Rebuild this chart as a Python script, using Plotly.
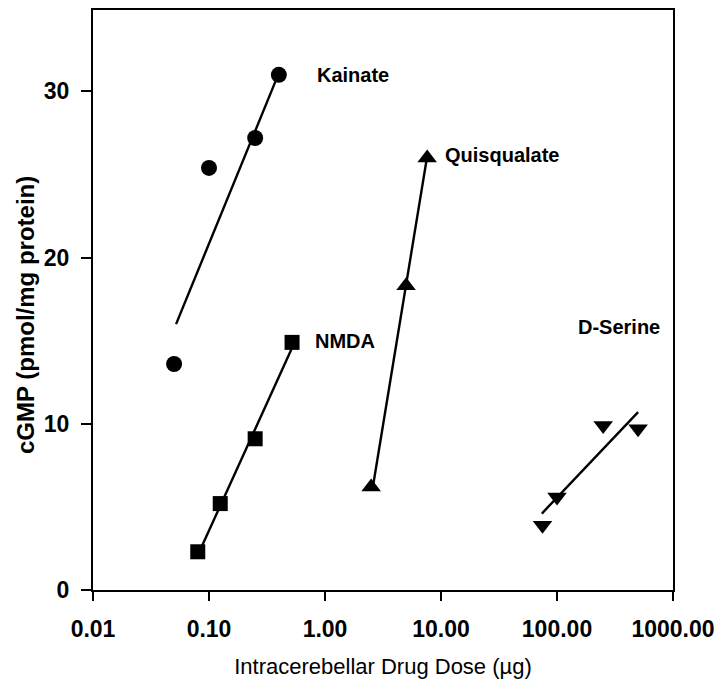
import math
import plotly.graph_objects as go

# ---- data ----
kainate_dose = [0.05, 0.10, 0.25, 0.40]
kainate_cgmp = [13.6, 25.4, 27.2, 31.0]
kainate_fit_dose = [0.052, 0.40]
kainate_fit_cgmp = [16.0, 31.1]

nmda_dose = [0.08, 0.125, 0.25, 0.52]
nmda_cgmp = [2.3, 5.2, 9.1, 14.9]
nmda_fit_dose = [0.082, 0.53]
nmda_fit_cgmp = [2.25, 14.7]

quis_dose = [2.5, 5.0, 7.6]
quis_cgmp = [6.2, 18.3, 26.0]
quis_fit_dose = [2.6, 7.6]
quis_fit_cgmp = [6.3, 26.1]

dser_dose = [75, 100, 250, 500]
dser_cgmp = [3.9, 5.6, 9.9, 9.7]
dser_fit_dose = [74, 500]
dser_fit_cgmp = [4.6, 10.7]

x_tickvals = [0.01, 0.1, 1, 10, 100, 1000]
x_ticktext = ["0.01", "0.10", "1.00", "10.00", "100.00", "1000.00"]
y_tickvals = [0, 10, 20, 30]
y_ticktext = ["0", "10", "20", "30"]

label_text = ["Kainate", "Quisqualate", "NMDA", "D-Serine"]
label_dose = [0.82, 10.4, 0.79, 810]
label_cgmp = [31.0, 26.2, 15.0, 15.8]
label_anchor = ["left", "left", "left", "right"]

FONT = "Liberation Sans, Arial, sans-serif"

fig = go.Figure()

def add_series(xs, ys, fx, fy, symbol, size):
    fig.add_trace(go.Scatter(x=fx, y=fy, mode="lines",
                             line=dict(color="black", width=2.4), showlegend=False,
                             hoverinfo="skip"))
    fig.add_trace(go.Scatter(x=xs, y=ys, mode="markers",
                             marker=dict(symbol=symbol, size=size, color="black"),
                             showlegend=False))

add_series(kainate_dose, kainate_cgmp, kainate_fit_dose, kainate_fit_cgmp, "circle", 16)
add_series(nmda_dose, nmda_cgmp, nmda_fit_dose, nmda_fit_cgmp, "square", 15)
add_series(quis_dose, quis_cgmp, quis_fit_dose, quis_fit_cgmp, "triangle-up", 17)
add_series(dser_dose, dser_cgmp, dser_fit_dose, dser_fit_cgmp, "triangle-down", 17)

for text, x, y, anc in zip(label_text, label_dose, label_cgmp, label_anchor):
    fig.add_annotation(x=math.log10(x), y=y, xref="x", yref="y", text="<b>" + text + "</b>",
                       showarrow=False, xanchor=anc, yanchor="middle",
                       font=dict(family=FONT, size=20, color="black"))

# y-axis title as rotated annotation (slightly below centre, as in the original)
plot_w = 718 - 93 - 45
plot_h = 683 - 10 - 93
fig.add_annotation(x=(25 - 93) / plot_w, y=(683 - 93 - 315) / plot_h, xref="paper", yref="paper",
                   text="<b>cGMP (pmol/mg protein)</b>",
                   showarrow=False, textangle=-90, xanchor="center", yanchor="middle",
                   font=dict(family=FONT, size=24, color="black"))

fig.update_layout(
    width=718, height=683,
    margin=dict(l=93, r=45, t=10, b=93, autoexpand=False),
    paper_bgcolor="white", plot_bgcolor="white",
    font=dict(family=FONT, color="black"),
    xaxis=dict(type="log", range=[-2, 3], tickvals=x_tickvals,
               ticktext=["<b>" + t + "</b>" for t in x_ticktext],
               ticks="outside", ticklen=9, tickwidth=2, tickcolor="black",
               ticklabelstandoff=8, automargin=False,
               showline=True, linewidth=2, linecolor="black", mirror=True,
               showgrid=False, zeroline=False,
               tickfont=dict(family=FONT, size=23, color="black"),
               title=dict(text="Intracerebellar Drug Dose (µg)",
                          font=dict(family=FONT, size=22, color="black"), standoff=18)),
    yaxis=dict(range=[0, 34.9], tickvals=y_tickvals,
               ticktext=["<b>" + t + "</b>" for t in y_ticktext],
               ticks="outside", ticklen=10, tickwidth=2, tickcolor="black",
               ticklabelstandoff=7, automargin=False,
               showline=True, linewidth=2, linecolor="black", mirror=True,
               showgrid=False, zeroline=False,
               tickfont=dict(family=FONT, size=23, color="black")),
)

fig.write_html("out.html")
